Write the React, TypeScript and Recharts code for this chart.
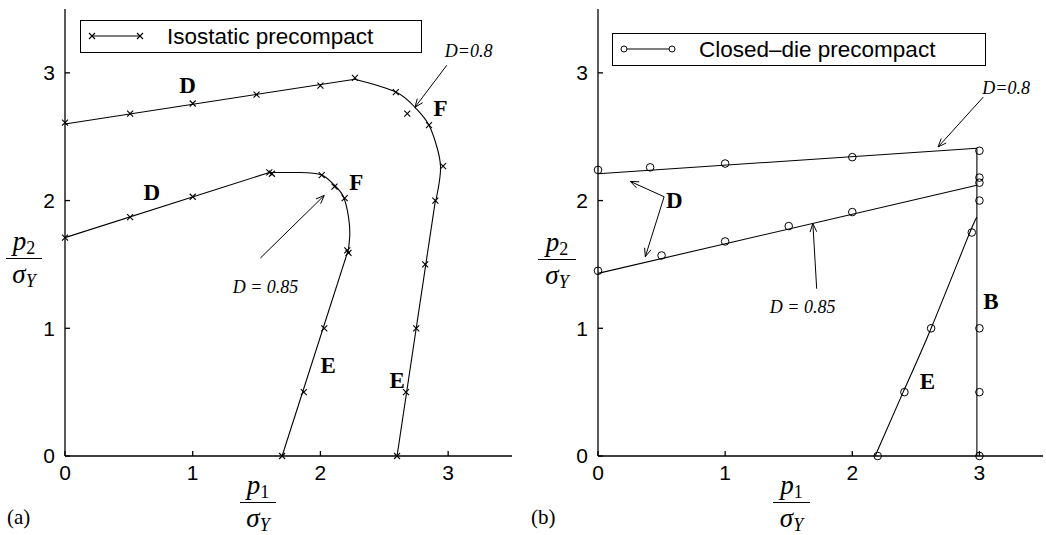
import React from 'react';
import { ComposedChart, Line, XAxis, YAxis, ReferenceLine, ReferenceDot } from 'recharts';

type Pt = { x: number; y: number };
const toPts = (a: number[][]): Pt[] => a.map(([x, y]) => ({ x, y }));

const axisTicks = [0, 1, 2, 3];
const axisDomain: [number, number] = [0, 3.5];

// (a) isostatic precompact, D = 0.8
const isoOuterD = [[0, 2.6], [2.27, 2.95]];
const isoOuterF = [[2.27, 2.95], [2.59, 2.85], [2.74, 2.73], [2.85, 2.59], [2.92, 2.39], [2.94, 2.23], [2.91, 2.03], [2.9, 2.0]];
const isoOuterE = [[2.9, 2.0], [2.6, 0]];
const isoOuterMarks = [[0, 2.61], [0.51, 2.68], [1.0, 2.76], [1.5, 2.83], [2.0, 2.9], [2.27, 2.96], [2.59, 2.85], [2.68, 2.68], [2.85, 2.59], [2.96, 2.27], [2.9, 2.0], [2.82, 1.5], [2.75, 1.0], [2.67, 0.5], [2.6, 0]];

// (a) isostatic precompact, D = 0.85
const isoInnerD = [[0, 1.71], [1.6, 2.22]];
const isoInnerF = [[1.6, 2.22], [1.84, 2.22], [2.01, 2.2], [2.11, 2.12], [2.18, 2.03], [2.22, 1.87], [2.23, 1.74], [2.22, 1.62]];
const isoInnerE = [[2.22, 1.62], [1.7, 0]];
const isoInnerMarks = [[0, 1.71], [0.51, 1.87], [1.0, 2.03], [1.6, 2.22], [1.62, 2.21], [2.01, 2.2], [2.11, 2.11], [2.19, 2.02], [2.21, 1.61], [2.22, 1.59], [2.03, 1.0], [1.87, 0.5], [1.7, 0]];

// (b) closed-die precompact
const cdUpperD = [[0, 2.21], [2.98, 2.41]];
const cdUpperMarks = [[0, 2.24], [0.41, 2.26], [1.0, 2.29], [2.0, 2.34], [3.0, 2.39]];
const cdLowerD = [[0, 1.43], [2.98, 2.12]];
const cdLowerMarks = [[0, 1.45], [0.5, 1.57], [1.0, 1.68], [1.5, 1.8], [2.0, 1.91], [3.0, 2.14]];
const cdE = [[2.18, 0], [2.4, 0.5], [2.62, 1.0], [2.9, 1.69], [2.98, 1.87]];
const cdEMarks = [[2.2, 0], [2.41, 0.5], [2.62, 1.0], [2.94, 1.75]];
const cdB = [[2.98, 0], [2.98, 2.41]];
const cdBMarks = [[3, 0], [3, 0.5], [3, 1.0], [3, 2.0], [3, 2.18]];

type Note = { text: string; x: number; y: number; bold?: boolean };
type Arrow = { from: [number, number]; to: [number, number] };

const isoNotes: Note[] = [
  { text: 'D', x: 0.96, y: 2.9, bold: true },
  { text: 'D', x: 0.68, y: 2.06, bold: true },
  { text: 'F', x: 2.94, y: 2.72, bold: true },
  { text: 'F', x: 2.28, y: 2.14, bold: true },
  { text: 'E', x: 2.06, y: 0.71, bold: true },
  { text: 'E', x: 2.6, y: 0.59, bold: true },
  { text: 'D=0.8', x: 3.16, y: 3.17 },
  { text: 'D = 0.85', x: 1.57, y: 1.32 },
];
const isoArrows: Arrow[] = [
  { from: [2.99, 3.06], to: [2.74, 2.73] },
  { from: [1.53, 1.55], to: [2.03, 2.04] },
];

const cdNotes: Note[] = [
  { text: 'D', x: 0.6, y: 2.0, bold: true },
  { text: 'B', x: 3.09, y: 1.21, bold: true },
  { text: 'E', x: 2.59, y: 0.58, bold: true },
  { text: 'D=0.8', x: 3.21, y: 2.88 },
  { text: 'D = 0.85', x: 1.61, y: 1.17 },
];
const cdArrows: Arrow[] = [
  { from: [3.03, 2.81], to: [2.675, 2.42] },
  { from: [0.52, 2.03], to: [0.254, 2.15] },
  { from: [0.52, 2.03], to: [0.372, 1.56] },
  { from: [1.72, 1.31], to: [1.69, 1.82] },
];

const SANS = '"Liberation Sans", Arial, Helvetica, sans-serif';
const SERIF = '"Liberation Serif", "Times New Roman", serif';
const INK = '#000';

const crossDot = (p: any) => {
  const { cx, cy, index } = p;
  if (cx == null || cy == null) return <g key={index} />;
  const s = 3;
  return (
    <path
      key={index}
      d={`M${cx - s},${cy - s}L${cx + s},${cy + s}M${cx - s},${cy + s}L${cx + s},${cy - s}`}
      stroke={INK}
      strokeWidth={1.1}
      fill="none"
    />
  );
};

const ringDot = (p: any) => {
  const { cx, cy, index } = p;
  if (cx == null || cy == null) return <g key={index} />;
  return <circle key={index} cx={cx} cy={cy} r={3.8} fill="none" stroke={INK} strokeWidth={1} />;
};

// straight pointer with an open V head at the target end
const arrowShape = (p: any) => {
  const { x1, y1, x2, y2 } = p;
  const a = Math.atan2(y2 - y1, x2 - x1);
  const len = 9;
  const spread = 0.38;
  const hx1 = x2 - len * Math.cos(a - spread);
  const hy1 = y2 - len * Math.sin(a - spread);
  const hx2 = x2 - len * Math.cos(a + spread);
  const hy2 = y2 - len * Math.sin(a + spread);
  return (
    <g>
      <line x1={x1} y1={y1} x2={x2} y2={y2} stroke={INK} strokeWidth={1} />
      <path d={`M${hx1},${hy1}L${x2},${y2}L${hx2},${hy2}`} stroke={INK} strokeWidth={1} fill="none" />
    </g>
  );
};

const noteShape = (note: Note) => (p: any) => (
  <text
    x={p.cx}
    y={p.cy}
    textAnchor="middle"
    dominantBaseline="central"
    fontFamily={SERIF}
    fontSize={note.bold ? 23 : 18}
    fontWeight={note.bold ? 700 : 400}
    fontStyle={note.bold ? 'normal' : 'italic'}
    fill={INK}
  >
    {note.text}
  </text>
);

type Curve = { data: number[][]; type: 'linear' | 'natural' };
type MarkSet = { data: number[][] };

interface PanelProps {
  width: number;
  yAxisWidth: number;
  rightPad: number;
  curves: Curve[];
  marks: MarkSet[];
  dot: (p: any) => React.ReactElement;
  notes: Note[];
  arrows: Arrow[];
}

const tickFont = { fontSize: 21, fill: INK, fontFamily: SANS };
const frame = { stroke: INK, strokeWidth: 1.3 };

function Panel({ width, yAxisWidth, rightPad, curves, marks, dot, notes, arrows }: PanelProps) {
  return (
    <ComposedChart width={width} height={535} margin={{ top: 9, right: rightPad, bottom: 49, left: 0 }}>
      <XAxis
        type="number"
        dataKey="x"
        domain={axisDomain}
        ticks={axisTicks}
        interval={0}
        height={30}
        tickSize={-5}
        tickMargin={14}
        tick={tickFont}
        axisLine={frame}
        tickLine={frame}
      />
      <XAxis
        xAxisId="top"
        orientation="top"
        type="number"
        domain={axisDomain}
        ticks={axisTicks}
        interval={0}
        height={0}
        tickSize={-5}
        tick={false}
        axisLine={frame}
        tickLine={frame}
      />
      <YAxis
        type="number"
        dataKey="y"
        domain={axisDomain}
        ticks={axisTicks}
        interval={0}
        width={yAxisWidth}
        tickSize={-5}
        tickMargin={15}
        tick={tickFont}
        axisLine={frame}
        tickLine={frame}
      />
      <YAxis
        yAxisId="right"
        orientation="right"
        type="number"
        domain={axisDomain}
        ticks={axisTicks}
        interval={0}
        width={0}
        tickSize={-5}
        tick={false}
        axisLine={frame}
        tickLine={frame}
      />
      {curves.map((c, i) => (
        <Line
          key={`c${i}`}
          data={toPts(c.data)}
          dataKey="y"
          type={c.type}
          stroke={INK}
          strokeWidth={1.1}
          dot={false}
          activeDot={false}
          isAnimationActive={false}
        />
      ))}
      {marks.map((m, i) => (
        <Line
          key={`m${i}`}
          data={toPts(m.data)}
          dataKey="y"
          stroke="none"
          dot={dot}
          activeDot={false}
          isAnimationActive={false}
        />
      ))}
      {arrows.map((a, i) => (
        <ReferenceLine
          key={`a${i}`}
          segment={[{ x: a.from[0], y: a.from[1] }, { x: a.to[0], y: a.to[1] }]}
          shape={arrowShape}
        />
      ))}
      {notes.map((n, i) => (
        <ReferenceDot key={`n${i}`} x={n.x} y={n.y} r={0} shape={noteShape(n)} />
      ))}
    </ComposedChart>
  );
}

// p / sigma_Y fraction used as axis title
function Frac({ left, top, w, sub }: { left: number; top: number; w: number; sub: string }) {
  return (
    <div style={{ position: 'absolute', left, top, width: w, fontFamily: SERIF, fontSize: 27, lineHeight: '26px', textAlign: 'center', color: INK }}>
      <div style={{ borderBottom: '1.5px solid #000', paddingBottom: 1 }}>
        <i>p</i>
        <span style={{ fontSize: 18, position: 'relative', top: 4 }}>{sub}</span>
      </div>
      <div style={{ paddingTop: 2 }}>
        <i>σ</i>
        <i style={{ fontSize: 18, position: 'relative', top: 4 }}>Y</i>
      </div>
    </div>
  );
}

function LegendBox({ left, top, w, label, kind }: { left: number; top: number; w: number; label: string; kind: 'cross' | 'ring' }) {
  const ends = [11, 59];
  return (
    <div style={{ position: 'absolute', left, top, width: w, height: 33, border: '1.3px solid #000', boxSizing: 'border-box', background: '#fff' }}>
      <svg width={80} height={31} style={{ position: 'absolute', left: 0, top: 0 }}>
        <line x1={ends[0]} y1={15} x2={ends[1]} y2={15} stroke={INK} strokeWidth={1.1} />
        {ends.map((x) =>
          kind === 'cross' ? (
            <path key={x} d={`M${x - 3},12L${x + 3},18M${x - 3},18L${x + 3},12`} stroke={INK} strokeWidth={1.1} />
          ) : (
            <circle key={x} cx={x} cy={15} r={3} fill="#fff" stroke={INK} strokeWidth={1} />
          ),
        )}
      </svg>
      <span style={{ position: 'absolute', left: 86, top: 2, fontFamily: SANS, fontSize: 22.5, lineHeight: '27px', color: INK, whiteSpace: 'nowrap' }}>
        {label}
      </span>
    </div>
  );
}

export default function App() {
  return (
    <div style={{ position: 'absolute', left: 0, top: 0, width: 1046, height: 535, background: '#fff', overflow: 'hidden' }}>
      <div style={{ position: 'absolute', left: 0, top: 0 }}>
        <Panel
          width={520}
          yAxisWidth={65}
          rightPad={8}
          curves={[
            { data: isoOuterD, type: 'linear' },
            { data: isoOuterF, type: 'natural' },
            { data: isoOuterE, type: 'linear' },
            { data: isoInnerD, type: 'linear' },
            { data: isoInnerF, type: 'natural' },
            { data: isoInnerE, type: 'linear' },
          ]}
          marks={[{ data: isoOuterMarks }, { data: isoInnerMarks }]}
          dot={crossDot}
          notes={isoNotes}
          arrows={isoArrows}
        />
      </div>
      <div style={{ position: 'absolute', left: 520, top: 0 }}>
        <Panel
          width={526}
          yAxisWidth={78}
          rightPad={3}
          curves={[
            { data: cdUpperD, type: 'linear' },
            { data: cdLowerD, type: 'linear' },
            { data: cdE, type: 'natural' },
            { data: cdB, type: 'linear' },
          ]}
          marks={[{ data: cdUpperMarks }, { data: cdLowerMarks }, { data: cdEMarks }, { data: cdBMarks }]}
          dot={ringDot}
          notes={cdNotes}
          arrows={cdArrows}
        />
      </div>

      <LegendBox left={80} top={20} w={342} label="Isostatic precompact" kind="cross" />
      <LegendBox left={612} top={33} w={374} label="Closed–die precompact" kind="ring" />

      <Frac left={6} top={228} w={36} sub="2" />
      <Frac left={240} top={472} w={36} sub="1" />
      <Frac left={538} top={229} w={38} sub="2" />
      <Frac left={773} top={472} w={37} sub="1" />

      <div style={{ position: 'absolute', left: 7, top: 507, fontFamily: SERIF, fontSize: 21, lineHeight: '21px', color: INK }}>(a)</div>
      <div style={{ position: 'absolute', left: 531, top: 507, fontFamily: SERIF, fontSize: 21, lineHeight: '21px', color: INK }}>(b)</div>
    </div>
  );
}
